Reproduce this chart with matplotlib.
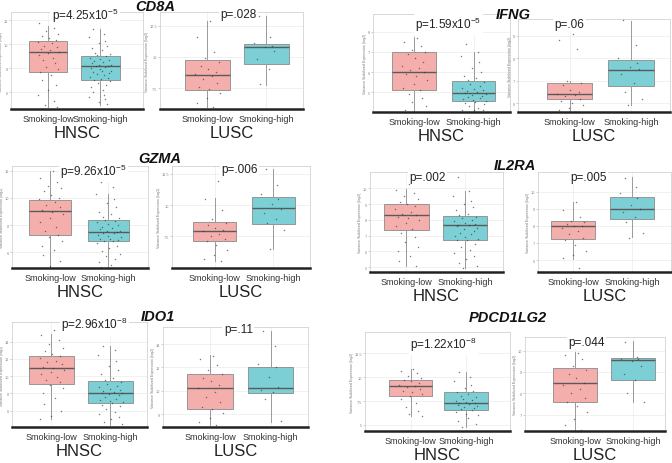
import matplotlib.pyplot as plt
import numpy as np

plt.rcParams['font.family'] = ['Liberation Sans', 'DejaVu Sans']
plt.rcParams['mathtext.fontset'] = 'custom'
plt.rcParams['mathtext.rm'] = 'Liberation Sans'
plt.rcParams['mathtext.it'] = 'Liberation Sans:italic'

W, H = 672, 464
GROUPS = ["Smoking-low", "Smoking-high"]
COHORTS = ["HNSC", "LUSC"]
GENES = ["CD8A", "GZMA", "IDO1", "IFNG", "IL2RA", "PDCD1LG2"]
BOX_COLORS = ["#f4aeab", "#7bcfd5"]
YLABEL = "Variance Stabilized Expression (log2)"

# typed jitter offsets (re-used cyclically for the dots)
JITTER = [0.05, -0.17, 0.12, -0.04, 0.19, -0.11, 0.01, 0.15, -0.2, 0.08,
          -0.07, 0.17, -0.14, 0.03, 0.21, -0.01, -0.18, 0.1, -0.09, 0.14,
          -0.03, 0.2, -0.15, 0.06, -0.12, 0.16, 0.0, -0.19, 0.11, -0.06,
          0.18, -0.1, 0.04, -0.16, 0.13, -0.02, 0.09, -0.21, 0.07, -0.13]

# p-values (HNSC, LUSC)
PVALS = {
    "CD8A": [r"p=4.25x10$^{-5}$", "p=.028"],
    "GZMA": [r"p=9.26x10$^{-5}$", "p=.006"],
    "IDO1": [r"p=2.96x10$^{-8}$", "p=.11"],
    "IFNG": [r"p=1.59x10$^{-5}$", "p=.06"],
    "IL2RA": ["p=.002", "p=.005"],
    "PDCD1LG2": [r"p=1.22x10$^{-8}$", "p=.044"],
}

# box stats: (whislo, q1, median, q3, whishi) for low / high
CD8A_HNSC_STATS = [(4.75, 7.7, 9.4, 10.3, 11.5), (4.9, 7.0, 8.15, 9.05, 11.3)]
CD8A_LUSC_STATS = [(6.0, 7.36, 8.52, 9.73, 12.9), (7.77, 9.46, 10.8, 11.0, 13.3)]
GZMA_HNSC_STATS = [(4.9, 7.29, 9.07, 9.87, 12.0), (4.9, 6.85, 7.51, 8.37, 10.3)]
GZMA_LUSC_STATS = [(5.55, 7.12, 7.92, 8.62, 10.54), (6.5, 8.46, 9.74, 10.69, 12.9)]
IDO1_HNSC_STATS = [(5.0, 9.15, 10.92, 12.38, 14.89), (4.35, 6.92, 8.08, 9.39, 13.5)]
IDO1_LUSC_STATS = [(7.06, 8.43, 10.2, 11.43, 13.05), (7.35, 9.78, 10.2, 12.0, 15.15)]
IFNG_HNSC_STATS = [(4.08, 5.13, 6.0, 7.02, 7.72), (4.08, 4.55, 4.95, 5.55, 7.0)]
IFNG_LUSC_STATS = [(5.66, 6.18, 6.39, 6.88, 7.0), (5.9, 6.74, 7.49, 7.94, 9.68)]
IL2RA_HNSC_STATS = [(5.06, 7.38, 8.3, 9.0, 9.96), (4.94, 6.75, 7.68, 8.23, 9.85)]
IL2RA_LUSC_STATS = [(6.06, 7.21, 8.0, 8.29, 9.41), (7.33, 8.39, 8.98, 9.66, 10.84)]
PDCD1LG2_HNSC_STATS = [(5.91, 8.02, 9.06, 9.72, 10.86), (4.81, 6.61, 7.28, 8.43, 10.51)]
PDCD1LG2_LUSC_STATS = [(6.25, 7.58, 8.48, 9.17, 9.92), (7.6, 8.64, 9.58, 9.64, 10.47)]

# individual samples
CD8A_HNSC_LOW = [12.3, 11.8, 11.4, 11.1, 10.9, 10.7, 10.5, 10.4, 10.2, 10.1, 9.9, 9.8, 9.6, 9.5,
                 9.4, 9.3, 9.1, 8.9, 8.7, 8.4, 8.1, 7.9, 7.7, 7.4, 7.0, 6.6, 6.2, 5.8, 5.3, 4.9, 4.8]
CD8A_HNSC_HIGH = [11.3, 10.9, 10.6, 10.3, 10.1, 9.9, 9.7, 9.5, 9.3, 9.2, 9.1, 9.0, 8.9, 8.8, 8.7,
                  8.6, 8.5, 8.4, 8.3, 8.25, 8.2, 8.15, 8.1, 8.0, 7.9, 7.8, 7.75, 7.7, 7.6, 7.5,
                  7.4, 7.3, 7.2, 7.1, 7.0, 6.9, 6.8, 6.6, 6.4, 6.2, 6.0, 5.8, 5.6, 5.4, 5.2, 5.0]
CD8A_LUSC_LOW = [12.9, 11.6, 10.4, 9.9, 9.6, 9.3, 9.0, 8.8, 8.6, 8.5, 8.2, 7.9, 7.6, 7.4, 7.1, 6.7, 6.3, 6.0]
CD8A_LUSC_HIGH = [13.3, 11.6, 11.1, 10.9, 10.8, 10.5, 9.8, 9.0, 7.8]

GZMA_HNSC_LOW = [12.0, 11.5, 11.2, 10.9, 10.7, 10.5, 10.2, 10.0, 9.9, 9.7, 9.5, 9.3, 9.1, 9.0,
                 8.8, 8.5, 8.2, 7.9, 7.6, 7.3, 7.1, 6.8, 6.5, 6.2, 5.8, 5.4, 5.0]
GZMA_HNSC_HIGH = [11.2, 10.8, 10.3, 9.9, 9.6, 9.3, 9.0, 8.8, 8.6, 8.5, 8.4, 8.3, 8.2, 8.1, 8.0,
                  7.9, 7.8, 7.7, 7.6, 7.55, 7.5, 7.45, 7.4, 7.3, 7.2, 7.1, 7.0, 6.95, 6.9, 6.85,
                  6.8, 6.7, 6.5, 6.3, 6.1, 5.9, 5.7, 5.5, 5.3, 5.1, 4.9]
GZMA_LUSC_LOW = [11.9, 10.5, 9.6, 8.9, 8.6, 8.4, 8.2, 8.0, 7.9, 7.7, 7.5, 7.3, 7.1, 6.8, 6.4, 6.0, 5.7, 5.55]
GZMA_LUSC_HIGH = [12.9, 11.6, 10.9, 10.5, 10.1, 9.7, 9.4, 8.9, 8.6, 8.0, 6.5]

IDO1_HNSC_LOW = [15.3, 14.8, 14.2, 13.7, 13.3, 12.9, 12.6, 12.3, 12.1, 11.8, 11.6, 11.4, 11.1, 10.9,
                 10.7, 10.5, 10.2, 9.9, 9.6, 9.3, 9.0, 8.6, 8.1, 7.5, 6.8, 6.0, 5.4, 5.0]
IDO1_HNSC_HIGH = [13.5, 13.0, 12.4, 11.8, 11.2, 10.7, 10.2, 9.8, 9.5, 9.3, 9.1, 8.9, 8.7, 8.5, 8.4,
                  8.3, 8.2, 8.1, 8.0, 7.9, 7.8, 7.6, 7.4, 7.2, 7.1, 7.0, 6.9, 6.7, 6.5, 6.2, 5.9,
                  5.6, 5.3, 5.0, 4.7, 4.4]
IDO1_LUSC_LOW = [13.0, 12.7, 12.2, 11.8, 11.4, 11.1, 10.8, 10.5, 10.2, 9.9, 9.5, 9.0, 8.6, 8.4, 8.1, 7.7, 7.3, 7.1]
IDO1_LUSC_HIGH = [15.1, 13.8, 12.3, 12.0, 11.2, 10.3, 10.1, 9.9, 9.3, 7.4]

IFNG_HNSC_LOW = [7.7, 7.5, 7.3, 7.1, 7.0, 6.9, 6.7, 6.5, 6.3, 6.2, 6.1, 6.0, 5.9, 5.8, 5.6, 5.4,
                 5.2, 5.1, 4.9, 4.7, 4.5, 4.3, 4.1]
IFNG_HNSC_HIGH = [7.4, 7.0, 6.8, 6.5, 6.2, 6.0, 5.8, 5.7, 5.6, 5.5, 5.4, 5.3, 5.2, 5.15, 5.1, 5.05,
                  5.0, 4.95, 4.9, 4.85, 4.8, 4.75, 4.7, 4.65, 4.6, 4.55, 4.5, 4.45, 4.4, 4.3, 4.2,
                  4.1, 4.1, 4.1]
IFNG_LUSC_LOW = [9.1, 8.8, 8.4, 7.0, 6.9, 6.8, 6.6, 6.5, 6.4, 6.35, 6.3, 6.2, 6.1, 6.0, 5.9, 5.8, 5.7]
IFNG_LUSC_HIGH = [9.7, 8.6, 8.0, 7.8, 7.6, 7.5, 7.3, 6.9, 6.5, 6.2, 5.9]

IL2RA_HNSC_LOW = [10.3, 9.9, 9.7, 9.5, 9.3, 9.1, 9.0, 8.9, 8.7, 8.5, 8.4, 8.3, 8.2, 8.1, 8.0, 7.8,
                  7.6, 7.4, 7.2, 6.9, 6.6, 6.3, 6.0, 5.7, 5.4, 5.1]
IL2RA_HNSC_HIGH = [10.7, 9.8, 9.5, 9.2, 9.0, 8.8, 8.6, 8.4, 8.3, 8.2, 8.1, 8.0, 7.9, 7.8, 7.75, 7.7,
                   7.65, 7.6, 7.5, 7.4, 7.3, 7.2, 7.1, 7.0, 6.9, 6.8, 6.75, 6.7, 6.5, 6.3, 6.1,
                   5.9, 5.7, 5.5, 5.3, 5.1, 4.95]
IL2RA_LUSC_LOW = [9.4, 8.9, 8.5, 8.3, 8.2, 8.1, 8.0, 8.0, 7.9, 7.7, 7.5, 7.3, 7.2, 6.9, 6.5, 6.3, 6.1, 5.55]
IL2RA_LUSC_HIGH = [10.8, 10.3, 9.9, 9.6, 9.2, 9.0, 8.8, 8.5, 8.2, 7.6, 7.3]

PDCD1LG2_HNSC_LOW = [10.9, 10.6, 10.4, 10.1, 9.9, 9.7, 9.6, 9.4, 9.2, 9.1, 9.0, 8.8, 8.6, 8.4, 8.2,
                     8.0, 7.7, 7.3, 6.9, 6.5, 6.2, 5.9]
PDCD1LG2_HNSC_HIGH = [10.5, 10.0, 9.6, 9.2, 8.9, 8.6, 8.4, 8.2, 8.0, 7.9, 7.7, 7.6, 7.5, 7.4, 7.3,
                      7.25, 7.2, 7.1, 7.0, 6.9, 6.8, 6.7, 6.6, 6.4, 6.2, 6.0, 5.7, 5.4, 5.1, 4.8]
PDCD1LG2_LUSC_LOW = [9.9, 9.8, 9.6, 9.3, 9.1, 8.9, 8.7, 8.5, 8.4, 8.2, 8.0, 7.8, 7.6, 7.4, 7.1, 6.8, 6.5, 6.3]
PDCD1LG2_LUSC_HIGH = [10.4, 9.7, 9.6, 9.6, 9.5, 9.3, 8.9, 8.6, 8.0, 7.6]

# y-axis scales (ylim, ticks)
YSCALES = {
    ("CD8A", "HNSC"): ((4.6, 12.7), [6, 8, 10, 12]),
    ("CD8A", "LUSC"): ((5.83, 13.6), [7.5, 10.0, 12.5]),
    ("GZMA", "HNSC"): ((4.85, 12.35), [6, 8, 10, 12]),
    ("GZMA", "LUSC"): ((4.96, 13.14), [7.5, 10.0, 12.5]),
    ("IDO1", "HNSC"): ((4.11, 16.28), [6, 8, 10, 12, 14]),
    ("IDO1", "LUSC"): ((6.89, 15.46), [8, 10, 12, 14]),
    ("IFNG", "HNSC"): ((4.02, 8.88), [5, 6, 7, 8]),
    ("IFNG", "LUSC"): ((5.6, 9.75), [6, 7, 8, 9]),
    ("IL2RA", "HNSC"): ((4.7, 11.03), [5, 6, 7, 8, 9, 10]),
    ("IL2RA", "LUSC"): ((5.3, 11.15), [6, 7, 8, 9, 10]),
    ("PDCD1LG2", "HNSC"): ((4.37, 14.73), [5.0, 7.5, 10.0, 12.5]),
    ("PDCD1LG2", "LUSC"): ((6.23, 10.64), [7, 8, 9, 10]),
}

# layout: axes rect in px (left, top, right, bottom), xlim, box width, p-label (x frac, px below top)
LAYOUT = {
    ("CD8A", "HNSC"): ((11, 13, 143, 110), (0.29, 2.82), 0.74, (0.56, 3)),
    ("CD8A", "LUSC"): ((160, 13, 303, 110), (0.2, 2.62), 0.76, (0.55, 2)),
    ("GZMA", "HNSC"): ((12, 167, 148, 269), (0.34, 2.68), 0.72, (0.6, 5)),
    ("GZMA", "LUSC"): ((172, 167, 310, 269), (0.27, 2.63), 0.74, (0.49, 3)),
    ("IDO1", "HNSC"): ((12, 323, 147, 428), (0.33, 2.62), 0.77, (0.61, 2)),
    ("IDO1", "LUSC"): ((163, 328, 308, 428), (0.22, 2.62), 0.75, (0.52, 2)),
    ("IFNG", "HNSC"): ((373, 15, 510, 113), (0.31, 2.61), 0.73, (0.55, 10)),
    ("IFNG", "LUSC"): ((518, 20, 670, 113), (0.16, 2.63), 0.74, (0.34, 5)),
    ("IL2RA", "HNSC"): ((370, 173, 503, 273), (0.38, 2.64), 0.75, (0.43, 5)),
    ("IL2RA", "LUSC"): ((538, 173, 671, 273), (0.4, 2.66), 0.75, (0.38, 5)),
    ("PDCD1LG2", "HNSC"): ((365, 333, 510, 432), (0.18, 2.79), 0.78, (0.54, 12)),
    ("PDCD1LG2", "LUSC"): ((525, 338, 665, 432), (0.14, 2.55), 0.76, (0.44, 5)),
}
TITLE_POS = {"CD8A": (155, 7), "GZMA": (160, 159), "IDO1": (158, 317),
             "IFNG": (513, 15), "IL2RA": (515, 166), "PDCD1LG2": (508, 318)}

data = globals()

fig = plt.figure(figsize=(W / 100, H / 100), dpi=100)

for gene in GENES:
    tx, ty = TITLE_POS[gene]
    fig.text(tx / W, 1 - ty / H, gene, fontsize=10.5, fontweight='bold', fontstyle='italic',
             ha='center', va='center', color='#111111')
    for ci, cohort in enumerate(COHORTS):
        (l, t, r, b), xlim, bw, (pfx, pdy) = LAYOUT[(gene, cohort)]
        ylim, yticks = YSCALES[(gene, cohort)]
        stats = data[f"{gene}_{cohort}_STATS"]
        groups = [data[f"{gene}_{cohort}_LOW"], data[f"{gene}_{cohort}_HIGH"]]

        ax = fig.add_axes([l / W, 1 - b / H, (r - l) / W, (b - t) / H])
        ax.set_axisbelow(True)
        ax.grid(color='#ececec', lw=0.5)

        bxp_stats = [dict(whislo=s[0], q1=s[1], med=s[2], q3=s[3], whishi=s[4], fliers=[])
                     for s in stats]
        bp = ax.bxp(bxp_stats, positions=[1, 2], widths=bw, patch_artist=True,
                    showfliers=False, showcaps=False,
                    boxprops=dict(edgecolor='#8a8a8a', linewidth=0.6),
                    medianprops=dict(color='#5a5a5a', linewidth=1.0),
                    whiskerprops=dict(color='#9a9a9a', linewidth=0.7))
        for patch, col in zip(bp['boxes'], BOX_COLORS):
            patch.set_facecolor(col)

        for gi, vals in enumerate(groups):
            offs = np.resize(JITTER if gi == 0 else JITTER[::-1], len(vals))
            ax.scatter(gi + 1 + offs, vals, s=1.1, c='#333333', alpha=0.65, lw=0, zorder=3)

        ax.set_xlim(*xlim)
        ax.set_ylim(*ylim)
        ax.set_xticks([1, 2])
        ax.set_xticklabels(GROUPS)
        ax.set_yticks(yticks)
        ax.set_yticklabels([f"{v:g}" for v in yticks])
        ax.tick_params(axis='x', length=0, pad=3.8, labelsize=6.5, labelcolor='#333333')
        ax.tick_params(axis='y', length=1.2, width=0.4, color='#aaaaaa', pad=1,
                       labelsize=2.8, labelcolor='#888888')
        ax.set_xlabel(cohort, fontsize=12, color='#222222', labelpad=1.5)
        ax.set_ylabel(YLABEL, fontsize=2.6, color='#777777', labelpad=0.5)

        for side in ['left', 'top', 'right']:
            ax.spines[side].set_color('#d2d2d2')
            ax.spines[side].set_linewidth(0.6)
        ax.spines['bottom'].set_color('#222222')
        ax.spines['bottom'].set_linewidth(1.8)

        ax.text(pfx, 1 - pdy / (b - t), PVALS[gene][ci], transform=ax.transAxes,
                ha='center', va='center', fontsize=8.5, color='#222222', zorder=5,
                bbox=dict(fc='white', ec='none', pad=1.0))

fig.savefig("out.png", dpi=100, facecolor='white')
